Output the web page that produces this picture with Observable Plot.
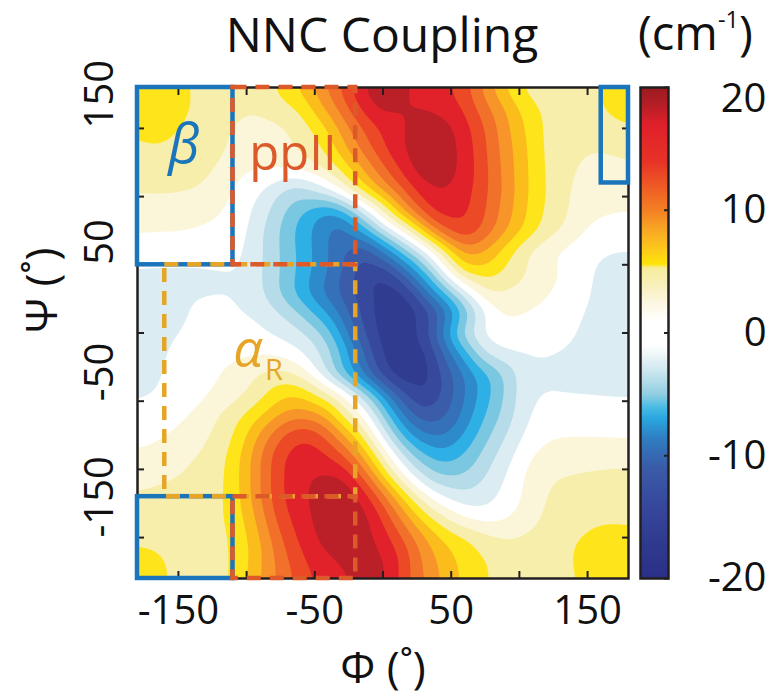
<!DOCTYPE html>
<html><head><meta charset="utf-8">
<script src="https://cdn.jsdelivr.net/npm/d3@7"></script>
<script src="https://cdn.jsdelivr.net/npm/@observablehq/plot@0.6"></script>
<style>
body{margin:0;background:#fff;}
#wrap{position:relative;width:767px;height:696px;overflow:hidden;font-family:"Open Sans",sans-serif;color:#111;}
#title{position:absolute;left:182px;width:400px;top:0px;text-align:center;font-size:48px;line-height:1.4;}
#unit{position:absolute;left:638px;top:0px;font-size:47px;line-height:1.4;white-space:nowrap;}
#unit sup{font-size:0.5em;vertical-align:0.95em;line-height:0;}
#main{position:absolute;left:0;top:0;}
#cbar{position:absolute;left:630px;top:0;}
</style></head><body>
<div id="wrap">
<div id="main"></div>
<div id="cbar"></div>
<div id="title">NNC Coupling</div>
<div id="unit">(cm<sup>-1</sup>)</div>
</div>
<script>
// grid coordinates (degrees)
const phi = [-180,-165,-150,-135,-120,-105,-90,-75,-60,-45,-30,-15,0,15,30,45,60,75,90,105,120,135,150,165,180];
const psi = [180,165,150,135,120,105,90,75,60,45,30,15,0,-15,-30,-45,-60,-75,-90,-105,-120,-135,-150,-165,-180];
// NNC coupling (cm^-1), one row per psi (top to bottom), one column per phi
const coupling = [
[6.5,6.5,5.5,4.5,4,3.5,4.2,5.5,7.6,10.6,13.4,17.2,18.8,17.6,16,15.3,14,10,6.4,4.3,4.1,3.8,4.2,5.6,6.5],
[6.5,6.8,5.8,4.5,4,3.5,3.3,4.2,5.2,8.7,12,15.8,18,17,16.8,16.2,14.8,11.6,9,6,4.4,4,4.2,5.3,6.3],
[5.3,6,5,4.2,3.8,2.3,2.3,2.5,3.8,5.9,9.7,13,15.6,16.6,18.6,18,15.9,13,9.5,6.8,4.4,3.8,3.8,4.2,4.8],
[4.5,4.8,4.5,4.2,3.5,2.2,2,2.3,3.2,4.8,8.2,11.7,14.8,17,18.9,18.3,16.3,13.3,10,7.1,4.5,3.6,3.1,3.2,3.8],
[4.2,4.3,4,3.6,2.8,1.1,1,1.1,1.8,3,5.5,8.9,12.5,15.8,18.6,18.2,16.4,13.5,10.2,7.2,4.6,3.4,2.6,2.2,2.5],
[3.2,3.3,3.2,3,2,0.5,-0.8,-3.2,-4.5,-1.8,1.8,6.3,9.8,13.3,16.5,17.2,15.9,13.5,10.5,7.2,4.8,3.2,2,1.8,2],
[2,2,2,1.8,1.2,0,-1.8,-4.5,-6.8,-9.3,-7.8,-2.3,3.3,9.8,14.3,16.3,15.6,13.2,10,7,4.6,3.2,1.5,1.2,1],
[1.1,1,1,0.8,0.4,0,-2.7,-5.2,-8,-10.3,-12.8,-8.8,-3.3,1.2,7.9,13.4,15.2,12.5,9.5,6.5,4.1,2.6,0.7,0.3,0.2],
[0.3,0.2,0.2,0.1,-0.2,-0.5,-2.6,-5.1,-7.6,-10.2,-12.7,-15.8,-11.3,-6.1,-1.7,4.4,10,9,5.8,2.8,1.2,0.3,-0.6,-1.1,-1.2],
[-1.4,-1.5,-1.5,-1.5,-1.2,-0.8,-2.7,-5,-7.6,-10.1,-12.8,-16.5,-17,-12.2,-7.3,-0.5,6.6,6.5,4.5,3,1.8,0.6,-0.9,-1.4,-1.5],
[-1.4,-1.4,-1.3,-1.1,-1.1,-1.2,-2.5,-5.4,-8.3,-11.4,-13.8,-16.3,-18,-17.5,-11.8,-6.8,-1.5,3.1,2.8,2.3,1.2,0.3,-1,-1.5,-1.6],
[-1.6,-1.6,-1.4,-0.7,-0.4,-0.9,-1.3,-3,-5.3,-8.3,-11.8,-15.5,-18.3,-18.6,-16.8,-12.8,-7,-1.2,1.2,0.8,0.3,-0.4,-1.2,-1.6,-1.7],
[-1.7,-1.6,-1.1,-0.4,-0.2,-0.3,-0.6,-1.6,-2.5,-4.8,-9.5,-14.8,-18,-18.6,-16,-9.5,-3,0.2,0.4,0.5,0.3,-0.6,-1.4,-1.7,-1.7],
[-1.6,-1.4,-0.5,0,0.2,0.5,0.7,0.5,-0.8,-2.8,-7,-12.5,-17.5,-18.8,-18,-13,-8,-2.5,-0.9,-1,-1,-1.2,-1.5,-1.6,-1.6],
[-1.5,-1.2,-0.4,0.2,0.9,2,3.2,3.8,2.6,-1.8,-7.2,-11.5,-16.5,-18.8,-18.3,-14.5,-11,-7.8,-4.8,-1.3,-1.3,-1.4,-1.5,-1.5,-1.5],
[-1.3,-1,-0.2,0.5,1.4,2.5,4.2,6.5,6.8,4.2,1.4,-3.6,-9.2,-15,-17.5,-14.8,-11,-8,-4.8,-1.3,-0.9,-1.1,-1.1,-1.2,-1.2],
[-0.5,-0.1,0.5,1.4,3.2,4.6,6.5,9.2,10.3,9.5,4.5,1,-5.2,-11.3,-14.8,-13.8,-10.5,-7,-4.3,-1.2,0,0,-0.1,-0.2,-0.3],
[-0.2,0.5,1.4,2.4,3.6,5.6,9.5,13,15.3,13.8,9.6,5,-1.6,-7.6,-11.1,-11.5,-8.8,-5.7,-3,-0.6,0.7,0.9,0.9,0.8,0.8],
[1.6,2.1,2.6,3,4.1,6.8,11,15,16.3,16,13.7,9,2.8,-3,-6.9,-8.5,-6.8,-4.1,-1.9,0.6,1.9,2,2.1,2.2,2.2],
[2.2,2.5,2.9,3.5,4.3,6.8,11,15,16.5,17.4,17.5,13,6.8,1.2,-3.4,-5.4,-5,-3,-1,1.4,2.8,3.1,3.3,3.5,3.6],
[3.3,3.6,3.8,4,4.4,6.8,11,15,16.6,18,18.8,16.6,12,6.5,1.9,-1.3,-2.7,-2,-0.3,1.3,3.2,3.8,4,4.1,4.2],
[3.9,4,4.1,4.2,4.6,6.3,10,14.3,16,18,18.8,18,14.8,10.3,6,3.1,0.5,-0.4,0.4,2,3.5,4.1,4.4,4.6,4.6],
[4.7,4.5,4.3,4.2,4.4,5.7,9,13,15.6,17.6,18.6,17.8,16.2,13,9.3,6.7,5.5,3.7,2.8,3.3,3.9,4.5,5.3,5.8,5.4],
[5.5,5.3,4.6,4.2,4.4,5.6,8.5,12,14.8,16.5,17.4,17.8,17.4,14.5,10.5,8,6.2,5,4.3,4,4.1,4.6,6,6.5,6.2],
[6,5.5,4.5,4,4.2,6,9,11.5,14,15.5,16.5,17.7,17.8,14,11,8.5,6.5,5,4.5,4,4,4.5,5.5,6.5,6.5]
];
// contour levels and band colours (band [t, t+2])
const levels = [-21,-19,-17,-15,-13,-11,-9,-7,-5,-3,-1,1,3,5,7,9,11,13,15,17,19];
const bandColors = ["#2a3087","#2f3c90","#37499d","#3a5ca9","#3571b8","#2e8bcb","#2eafe5","#79c7e0","#b5dce8","#dbedf3","#ffffff",
  "#fbf6da","#f8eeac","#fee51b","#fbbd1b","#f7952a","#f2712a","#ec4a26","#e2222a","#bb1f28","#9e1c22"];
// colour bar gradient
const cbStops = [-20,-17,-14,-11,-8.5,-7,-6,-5,-3,-1,1,2.5,4,5.3,5.6,7,8.5,10,12,14,17,18.5,20];
const cbColors = ["#2b3087","#2f3b8f","#37489c","#3a5ba8","#2f7fc3","#29a6df","#4cbce3","#90cfe1","#cfe8ef","#ffffff","#ffffff","#fcf7e0","#f8efb8","#f7ec9c","#ffe40a","#fdc51c","#f8a424","#f47f23","#ee5a24","#e73227","#e0202a","#b81e26","#9a1b20"];
const cbTicks = [20,10,0,-10,-20];
// axes
const tickMarks = [-150,-100,-50,0,50,100,150];
const tickLabels = [-150,-50,50,150];
// conformational regions
const betaBoxes = [
  {phi1:-180, phi2:-110, psi1:50, psi2:180},
  {phi1:-180, phi2:-110, psi1:-180, psi2:-120},
  {phi1:160, phi2:180, psi1:110, psi2:180}
];
const ppiiBoxes = [
  {phi1:-110, phi2:-20, psi1:50, psi2:180},
  {phi1:-110, phi2:-20, psi1:-180, psi2:-120}
];
const alphaBoxes = [{phi1:-160, phi2:-20, psi1:-120, psi2:50}];
const italicLabels = [
  {text:"β", phi:-146, psi:137, color:"#1b75bb", size:54},
  {text:"α", phi:-99, psi:-13, color:"#e6a526", size:52}
];
const plainLabels = [
  {text:"ppII", phi:-66, psi:131, color:"#dc5a2a", size:49},
  {text:"R", phi:-80, psi:-28, color:"#e6a526", size:29}
];

// sample table built from the arrays above
const samples = [];
coupling.forEach((row, j) => row.forEach((v, i) => samples.push({phi: phi[i], psi: psi[j], value: v})));
const frameStroke = "#231f20";
const font = "'Open Sans', sans-serif";

const main = Plot.plot({
  width: 767, height: 696,
  marginLeft: 137, marginRight: 139, marginTop: 87, marginBottom: 118,
  x: {domain: [-180, 180]},
  y: {domain: [-180, 180]},
  color: {type: "linear", domain: levels, range: bandColors},
  style: {fontFamily: font, background: "transparent", color: "#111"},
  marks: [
    Plot.contour(samples, {
      x: "phi", y: "psi", fill: "value",
      interpolate: "barycentric", pixelSize: 2, blur: 4,
      thresholds: levels, clip: true
    }),
    Plot.axisX({anchor: "bottom", ticks: tickMarks, tickSize: -7, tickFormat: () => "", stroke: frameStroke, strokeWidth: 2}),
    Plot.axisX({anchor: "top", ticks: tickMarks, tickSize: -7, tickFormat: () => "", stroke: frameStroke, strokeWidth: 2}),
    Plot.axisY({anchor: "left", ticks: tickMarks, tickSize: -7, tickFormat: () => "", stroke: frameStroke, strokeWidth: 2}),
    Plot.axisY({anchor: "right", ticks: tickMarks, tickSize: -7, tickFormat: () => "", stroke: frameStroke, strokeWidth: 2}),
    Plot.frame({stroke: frameStroke, strokeWidth: 2.5}),
    Plot.rect(betaBoxes, {x1: "phi1", x2: "phi2", y1: "psi1", y2: "psi2", fill: "none", stroke: "#1b75bb", strokeWidth: 4.5}),
    Plot.rect(alphaBoxes, {x1: "phi1", x2: "phi2", y1: "psi1", y2: "psi2", fill: "none", stroke: "#e6a526", strokeWidth: 4.5, strokeDasharray: "14,9"}),
    Plot.rect(ppiiBoxes, {x1: "phi1", x2: "phi2", y1: "psi1", y2: "psi2", fill: "none", stroke: "#dc5a2a", strokeWidth: 4.5, strokeDasharray: "14,9"}),
    Plot.text(italicLabels, {x: "phi", y: "psi", text: "text", fill: "color", fontSize: "size", fontStyle: "italic"}),
    Plot.text(plainLabels, {x: "phi", y: "psi", text: "text", fill: "color", fontSize: "size"}),
    Plot.text(tickLabels, {x: d => d, text: d => String(d), frameAnchor: "bottom", dy: 45, fontSize: 40, fill: "#111"}),
    Plot.text(tickLabels, {y: d => d, text: d => String(d), frameAnchor: "left", dx: -37, rotate: -90, fontSize: 40, fill: "#111"}),
    Plot.text(["Φ (˚)"], {frameAnchor: "bottom", dy: 104, fontSize: 44, fill: "#111"}),
    Plot.text(["Ψ (˚)"], {frameAnchor: "left", dx: -95, rotate: -90, fontSize: 44, fill: "#111"})
  ]
});
document.getElementById("main").appendChild(main);

const cbar = Plot.plot({
  width: 137, height: 696,
  marginLeft: 10, marginRight: 99, marginTop: 87, marginBottom: 118,
  x: {domain: [0, 1], axis: null},
  y: {domain: [-20, 20], axis: null},
  color: {type: "linear", domain: cbStops, range: cbColors},
  style: {fontFamily: font, background: "transparent"},
  marks: [
    Plot.raster({x1: 0, x2: 1, y1: -20, y2: 20, width: 1, height: 491, fill: (x, y) => y}),
    Plot.axisY({anchor: "right", ticks: cbTicks, tickSize: -5, tickFormat: () => "", stroke: frameStroke, strokeWidth: 2}),
    Plot.frame({stroke: frameStroke, strokeWidth: 2.5}),
    Plot.text(cbTicks.slice(1), {y: d => d, text: d => String(d), frameAnchor: "right", dx: 98, textAnchor: "end", fontSize: 40, fill: "#111"}),
    Plot.text(cbTicks.slice(0, 1), {y: d => d, text: d => String(d), frameAnchor: "right", dx: 98, dy: 12, textAnchor: "end", fontSize: 40, fill: "#111"})
  ]
});
document.getElementById("cbar").appendChild(cbar);
</script>
</body></html>
